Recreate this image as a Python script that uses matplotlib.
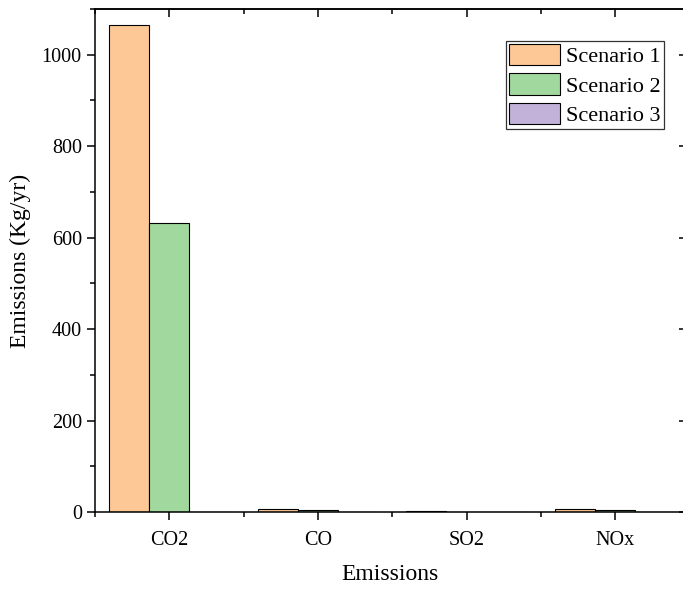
import numpy as np
import matplotlib
matplotlib.use("Agg")
import matplotlib.pyplot as plt
from matplotlib.ticker import MultipleLocator, FixedLocator

plt.rcParams['font.family'] = ['Liberation Serif', 'DejaVu Serif']
plt.rcParams['mathtext.fontset'] = 'stix'

# data
pollutants = ['CO2', 'CO', 'SO2', 'NOx']
scenario1 = [1065, 7, 2, 7]
scenario2 = [633, 5, 1, 5]
scenario3 = [0, 0, 0, 0]
labels = ['Scenario 1', 'Scenario 2', 'Scenario 3']
colors = ['#FDC896', '#A0D89E', '#C2B2D9']

fig = plt.figure(figsize=(6.83, 5.89), dpi=100)
ax = fig.add_axes([95/683, 1 - 512/589, 590/683, 503/589])

x = np.arange(len(pollutants))
w = 0.27
for i, (vals, lab, col) in enumerate(zip([scenario1, scenario2, scenario3], labels, colors)):
    ax.bar(x + (i - 1) * w, vals, w, color=col, edgecolor='black', linewidth=0.8, label=lab)

ax.set_xlim(-0.5, 3.47)
ax.set_ylim(0, 1100)

ax.set_xticks(x)
ax.set_xticklabels(pollutants)
ax.xaxis.set_minor_locator(FixedLocator(np.arange(-0.5, 3.6, 1.0)))
ax.yaxis.set_major_locator(MultipleLocator(200))
ax.yaxis.set_minor_locator(MultipleLocator(100))

for s in ax.spines.values():
    s.set_linewidth(1.1)

ax.tick_params(axis='both', which='major', direction='out', length=6, width=1.1, labelsize=14.5)
ax.tick_params(axis='both', which='minor', direction='out', length=3.5, width=1.1)
ax.tick_params(axis='x', pad=8)

# mirrored ticks on top and right, pointing inward
top = ax.secondary_xaxis('top')
top.set_xticks(x)
top.xaxis.set_minor_locator(FixedLocator(np.arange(-0.5, 3.6, 1.0)))
top.tick_params(which='major', direction='in', length=6, width=1.1, labeltop=False)
top.tick_params(which='minor', direction='in', length=3.5, width=1.1)
top.spines['top'].set_linewidth(1.1)

right = ax.secondary_yaxis('right')
right.yaxis.set_major_locator(MultipleLocator(200))
right.tick_params(which='major', direction='in', length=4, width=1.1, labelright=False)
right.tick_params(which='minor', length=0)

ax.set_xlabel('Emissions', fontsize=17, labelpad=10)
ax.set_ylabel('Emissions (Kg/yr)', fontsize=17, labelpad=8)

leg = ax.legend(loc='upper right', bbox_to_anchor=(0.964, 0.937), fontsize=16,
                frameon=True, fancybox=False, edgecolor='black',
                handlelength=2.3, handleheight=1.1, labelspacing=0.28,
                handletextpad=0.25, borderpad=0.15, borderaxespad=0.0)
leg.get_frame().set_linewidth(0.9)

fig.savefig('out.png', dpi=100)
